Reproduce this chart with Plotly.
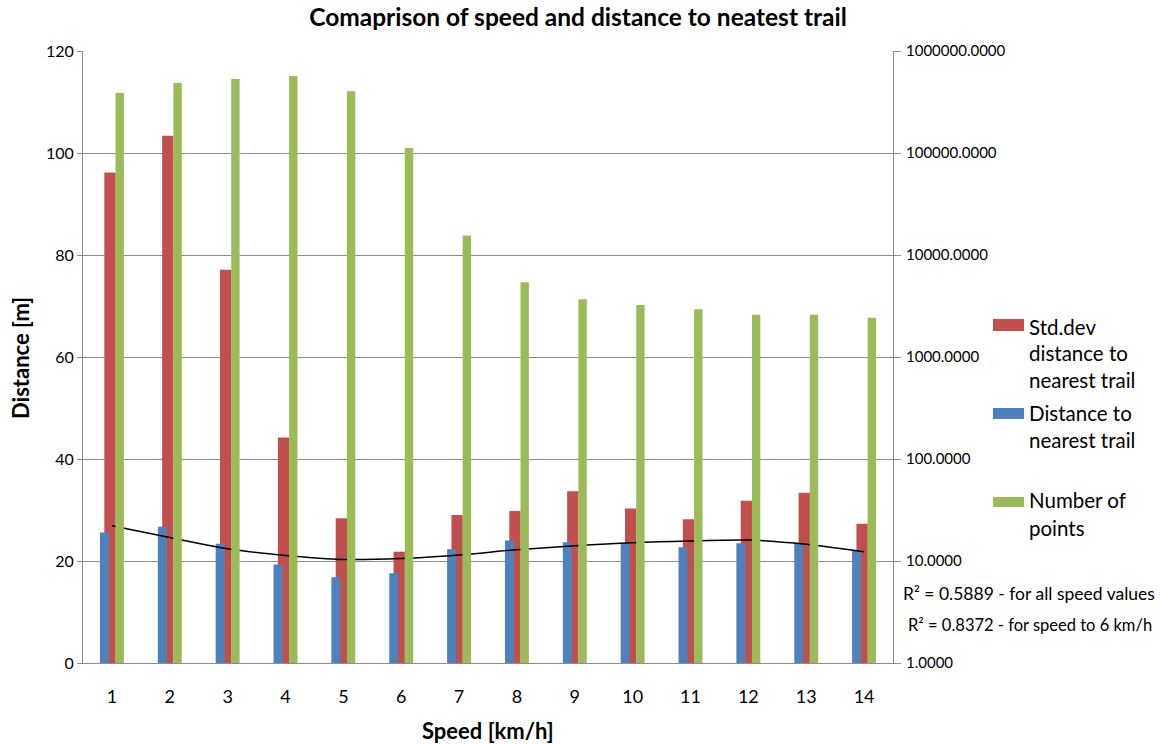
import plotly.graph_objects as go

# ---- data ----
speed = [1, 2, 3, 4, 5, 6, 7, 8, 9, 10, 11, 12, 13, 14]
std_dev = [96.2, 103.4, 77.1, 44.2, 28.4, 21.8, 29.0, 29.8, 33.7, 30.3, 28.2, 31.8, 33.4, 27.3]
distance = [25.6, 26.7, 23.4, 19.3, 16.8, 17.6, 22.3, 24.0, 23.7, 23.5, 22.7, 23.5, 23.5, 22.2]
n_points = [387000, 485000, 531000, 569000, 403000, 112000, 15500, 5400, 3680, 3235, 2933, 2600, 2600, 2428]
trend = [26.9, 24.6, 22.4, 21.1, 20.3, 20.5, 21.2, 22.2, 23.0, 23.6, 23.9, 24.1, 23.3, 21.8]

left_ticks = [0, 20, 40, 60, 80, 100, 120]
right_ticks = [1, 10, 100, 1000, 10000, 100000, 1000000]

series_names = {
    "std": ["Std.dev", "distance to", "nearest trail"],
    "dist": ["Distance to", "nearest trail"],
    "npts": ["Number of", "points"],
}
title_text = "Comaprison of speed and distance to neatest trail"
x_title = "Speed [km/h]"
y_title = "Distance [m]"
r2_texts = ["R² = 0.5889 - for all speed values", "R² = 0.8372 - for speed to 6 km/h"]

# ---- style ----
BLUE = "#4F81BD"
RED = "#C0504D"
GREEN = "#9BBB59"
GRID = "#8C8C8C"
FONT = "Lato"

W, H = 1160, 744
L, R, T, B = 83, 893, 51, 663  # plot area in px


def px_x(px):
    return (px - L) / (R - L)


def px_y(py):
    return (B - py) / (B - T)


fig = go.Figure()

fig.add_trace(go.Bar(
    x=speed, y=std_dev, name="Std.dev distance to nearest trail",
    marker=dict(color=RED, line=dict(width=0)),
    offset=-0.132, width=0.196, yaxis="y", showlegend=False,
))
fig.add_trace(go.Bar(
    x=speed, y=distance, name="Distance to nearest trail",
    marker=dict(color=BLUE, line=dict(width=0)),
    offset=-0.207, width=0.155, yaxis="y", showlegend=False,
))
fig.add_trace(go.Bar(
    x=speed, y=n_points, name="Number of points",
    marker=dict(color=GREEN, line=dict(width=0)),
    offset=0.062, width=0.145, yaxis="y2", base=1, showlegend=False,
))
fig.add_trace(go.Scatter(
    x=speed, y=trend, mode="lines", line=dict(color="black", width=1.5, shape="spline"),
    yaxis="y", showlegend=False, hoverinfo="skip",
))

shapes = []
annotations = []

# custom legend
legend_items = [
    ("std", RED, (319, 331), [327, 353, 380]),
    ("dist", BLUE, (408, 419), [413, 440]),
    ("npts", GREEN, (497, 507), [500, 528]),
]
for key, col, (ytop, ybot), line_ys in legend_items:
    shapes.append(dict(type="rect", xref="paper", yref="paper",
                       x0=px_x(993), x1=px_x(1024), y0=px_y(ybot), y1=px_y(ytop),
                       fillcolor=col, line=dict(width=0)))
    for txt, ly in zip(series_names[key], line_ys):
        annotations.append(dict(text=txt, xref="paper", yref="paper",
                                x=px_x(1027), y=px_y(ly), xanchor="left", yanchor="middle",
                                showarrow=False, font=dict(size=20.5, color="black", family=FONT)))

# R² texts
for txt, cx, cy, fs in zip(r2_texts, [1029, 1030], [593, 625], [17.5, 16.5]):
    annotations.append(dict(text=txt, xref="paper", yref="paper",
                            x=px_x(cx), y=px_y(cy), xanchor="center", yanchor="middle",
                            showarrow=False, font=dict(size=fs, color="black", family=FONT)))

# axis titles
annotations.append(dict(text=f"<b>{y_title}</b>", xref="paper", yref="paper",
                        x=px_x(20), y=px_y(358), textangle=-90, xanchor="center", yanchor="middle",
                        showarrow=False, font=dict(size=22, color="black", family=FONT)))
annotations.append(dict(text=f"<b>{x_title}</b>", xref="paper", yref="paper",
                        x=px_x(488), y=px_y(730), xanchor="center", yanchor="middle",
                        showarrow=False, font=dict(size=22, color="black", family=FONT)))

fig.update_layout(
    width=W, height=H,
    margin=dict(l=L, r=W - R, t=T, b=H - B, pad=0),
    paper_bgcolor="white", plot_bgcolor="white",
    barmode="overlay",
    font=dict(family=FONT, color="black"),
    title=dict(text=f"<b>{title_text}</b>", x=578 / W, xanchor="center",
               y=1 - 17 / H, yanchor="middle", yref="container",
               font=dict(size=24.5, color="black", family=FONT)),
    xaxis=dict(range=[0.5, 14.5], tickvals=speed, ticktext=[str(s) for s in speed],
               showgrid=False, zeroline=False, showline=True, linecolor=GRID, linewidth=1,
               ticks="", ticklabelstandoff=17, tickfont=dict(size=18, color="black")),
    yaxis=dict(range=[0, 120], tickvals=left_ticks, showgrid=True, gridcolor=GRID, gridwidth=1,
               zeroline=False, showline=True, linecolor=GRID, linewidth=1,
               ticks="outside", ticklen=5, tickcolor=GRID, tickfont=dict(size=16, color="black")),
    yaxis2=dict(type="log", range=[0, 6], overlaying="y", side="right",
                tickvals=right_ticks, tickformat=".4f", showgrid=False, zeroline=False,
                showline=True, linecolor=GRID, linewidth=1,
                ticks="outside", ticklen=7, tickcolor=GRID, ticklabelstandoff=2,
                tickfont=dict(size=15, color="black")),
    shapes=shapes,
    annotations=annotations,
)

fig.write_html("out.html")
